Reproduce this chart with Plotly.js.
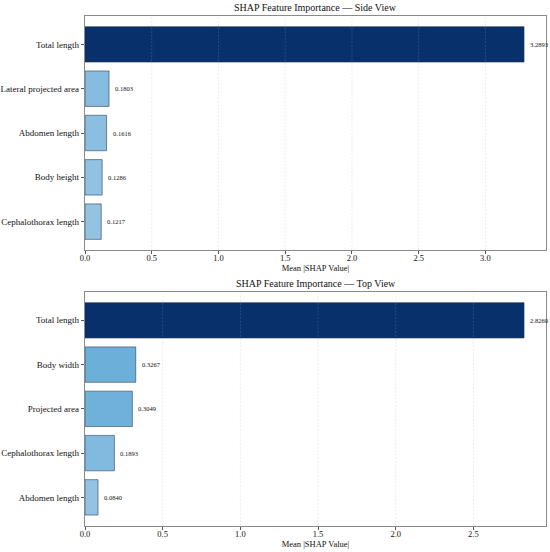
<!DOCTYPE html>
<html>
<head>
<meta charset="utf-8">
<script src="https://cdn.plot.ly/plotly-3.0.1.min.js"></script>
<style>html,body{margin:0;padding:0;background:#fff;}#chart{width:550px;height:552px;}</style>
</head>
<body>
<div id="chart"></div>
<script>
// ---- Data ----
const sideFeatures = ["Total length", "Lateral projected area", "Abdomen length", "Body height", "Cephalothorax length"];
const sideValues = [3.2893, 0.1803, 0.1616, 0.1286, 0.1217];
const sideColors = ["#08306b", "#86bcdf", "#8abfe1", "#8fc2e3", "#92c3e3"];

const topFeatures = ["Total length", "Body width", "Projected area", "Cephalothorax length", "Abdomen length"];
const topValues = [2.8260, 0.3267, 0.3049, 0.1893, 0.0840];
const topColors = ["#08306b", "#6cafd8", "#70b1d9", "#80badf", "#93c3e4"];

const sideTicks = [0, 0.5, 1.0, 1.5, 2.0, 2.5, 3.0];
const topTicks = [0, 0.5, 1.0, 1.5, 2.0, 2.5];

const sideTitle = "SHAP Feature Importance — Side View";
const topTitle = "SHAP Feature Importance — Top View";
const xTitle = "Mean |SHAP Value|";

const FONT = "Liberation Serif, Times New Roman, serif";

function fmt(v){ return v.toFixed(4); }

const traces = [
  {type:'bar', orientation:'h', x: sideValues, y: sideFeatures, xaxis:'x', yaxis:'y',
   marker:{color: sideColors, line:{color:'rgba(40,50,70,0.55)', width:1}}, width:0.8, hoverinfo:'none'},
  {type:'bar', orientation:'h', x: topValues, y: topFeatures, xaxis:'x2', yaxis:'y2',
   marker:{color: topColors, line:{color:'rgba(40,50,70,0.55)', width:1}}, width:0.8, hoverinfo:'none'}
];

function valueLabels(vals, cats, xref, yref){
  return vals.map((v, i) => ({
    text: fmt(v), x: v, y: cats[i], xref: xref, yref: yref, xanchor:'left', yanchor:'middle',
    xshift: 4, showarrow:false, font:{family:FONT, size:6.5, color:'#111'}
  }));
}

function gridShapes(ticks, xref, yref){
  return ticks.filter(t => t > 0).map(t => ({
    type:'line', xref: xref, yref: yref + ' domain', x0:t, x1:t, y0:0, y1:1, layer:'above',
    line:{color:'rgba(170,170,170,0.3)', width:0.8, dash:'2px,1.5px'}
  }));
}

const axisCommon = {
  showline:true, mirror:true, linecolor:'#8a8a8a', linewidth:1.2,
  ticks:'outside', ticklen:3, tickcolor:'#555', tickwidth:1,
  showgrid:false, zeroline:false, automargin:false,
  tickfont:{family:FONT, size:8.5, color:'#111'}
};

const layout = {
  width:550, height:552,
  margin:{l:85, r:4, t:0, b:0},
  paper_bgcolor:'#fff', plot_bgcolor:'#fff',
  showlegend:false,
  font:{family:FONT, color:'#111'},
  xaxis: Object.assign({}, axisCommon, {domain:[0,1], anchor:'y', range:[0, sideValues[0]*1.05],
    tickvals: sideTicks, tickformat:'.1f', ticklabelstandoff:-3,
    title:{text:xTitle, font:{family:FONT, size:8.5, color:'#111'}, standoff:0}}),
  yaxis: Object.assign({}, axisCommon, {domain:[0.5471, 0.9710], anchor:'x', type:'category',
    categoryarray: sideFeatures, range:[4.64, -0.64], tickfont:{family:FONT, size:9, color:'#111'}}),
  xaxis2: Object.assign({}, axisCommon, {domain:[0,1], anchor:'y2', range:[0, topValues[0]*1.05],
    tickvals: topTicks, tickformat:'.1f', ticklabelstandoff:-3,
    title:{text:xTitle, font:{family:FONT, size:8.5, color:'#111'}, standoff:0}}),
  yaxis2: Object.assign({}, axisCommon, {domain:[0.0477, 0.4710], anchor:'x2', type:'category',
    categoryarray: topFeatures, range:[4.64, -0.64], tickfont:{family:FONT, size:9, color:'#111'}}),
  shapes: gridShapes(sideTicks, 'x', 'y').concat(gridShapes(topTicks, 'x2', 'y2')),
  annotations: [
    {text: sideTitle, xref:'x domain', yref:'y domain', x:0.5, y:1, xanchor:'center', yanchor:'bottom',
     yshift:1, showarrow:false, font:{family:FONT, size:10, color:'#111'}},
    {text: topTitle, xref:'x2 domain', yref:'y2 domain', x:0.5, y:1, xanchor:'center', yanchor:'bottom',
     yshift:1, showarrow:false, font:{family:FONT, size:10, color:'#111'}}
  ].concat(valueLabels(sideValues, sideFeatures, 'x', 'y'), valueLabels(topValues, topFeatures, 'x2', 'y2'))
};

Plotly.newPlot('chart', traces, layout, {staticPlot:true, displayModeBar:false});
</script>
</body>
</html>
